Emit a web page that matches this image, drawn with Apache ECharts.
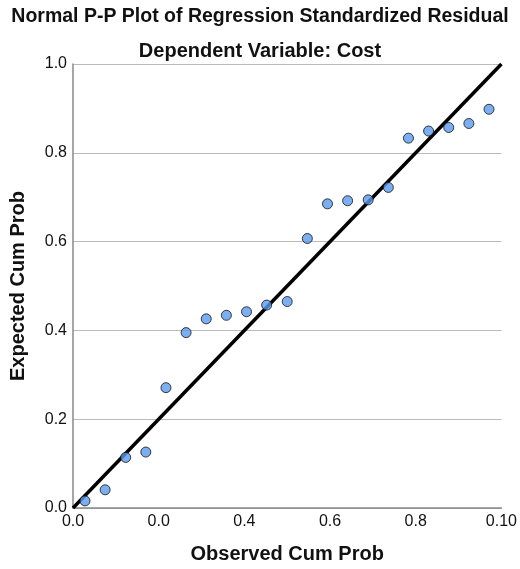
<!DOCTYPE html><html><head><meta charset="utf-8">
<script src="https://cdn.jsdelivr.net/npm/echarts@6/dist/echarts.min.js"></script>
<style>html,body{margin:0;background:#fff}#c{width:520px;height:569px}</style></head><body><div id="c"></div>
<script>
const observed=[0.028,0.075,0.123,0.17,0.217,0.264,0.311,0.358,0.405,0.452,0.5,0.547,0.594,0.641,0.689,0.736,0.783,0.83,0.877,0.924,0.971];
const expected=[0.016,0.041,0.114,0.126,0.271,0.395,0.426,0.434,0.442,0.457,0.465,0.607,0.685,0.692,0.694,0.722,0.833,0.849,0.857,0.866,0.898];
const xTickLabels=['0.0','0.0','0.4','0.6','0.8','0.10'];
const yTickLabels=['0.0','0.2','0.4','0.6','0.8','1.0'];
const refLine=[[0,0],[1,1]];
const F='Liberation Sans, Arial, sans-serif';
const ch=echarts.init(document.getElementById('c'));
ch.setOption({
 animation:false,
 title:[{text:'Normal P-P Plot of Regression Standardized Residual',left:'center',top:2,textStyle:{fontFamily:F,fontSize:19.5,fontWeight:'bold',color:'#111'}},
        {text:'Dependent Variable: Cost',left:'center',top:36,textStyle:{fontFamily:F,fontSize:20,fontWeight:'bold',color:'#111'}}],
 grid:{left:62,right:11,top:64,bottom:59},
 xAxis:{type:'value',min:0,max:1,interval:0.2,name:'Observed Cum Prob',nameLocation:'middle',nameGap:36,
  nameTextStyle:{fontFamily:F,fontSize:20,fontWeight:'bold',color:'#111'},
  axisLine:{lineStyle:{color:'#888',width:1.5}},axisTick:{show:false},splitLine:{show:false},
  axisLabel:{fontFamily:F,fontSize:16,color:'#111',margin:6,formatter:(v)=>xTickLabels[Math.round(v/0.2)]}},
 yAxis:{type:'value',min:0,max:1,interval:0.2,name:'Expected Cum Prob',nameLocation:'middle',nameGap:45,
  nameTextStyle:{fontFamily:F,fontSize:20,fontWeight:'bold',color:'#111'},
  axisLine:{show:true,lineStyle:{color:'#888',width:1.5}},axisTick:{show:false},
  splitLine:{lineStyle:{color:'#bbb',width:1}},
  axisLabel:{fontFamily:F,fontSize:16,color:'#111',margin:6,formatter:(v)=>yTickLabels[Math.round(v/0.2)]}},
 series:[
  {type:'line',data:refLine,symbol:'none',lineStyle:{color:'#000',width:3.5},z:2},
  {type:'scatter',data:observed.map((x,i)=>[x,expected[i]]),symbolSize:10,
   itemStyle:{color:'#5b9bef',borderColor:'#111',borderWidth:1},z:3}
 ]
});
</script></body></html>
